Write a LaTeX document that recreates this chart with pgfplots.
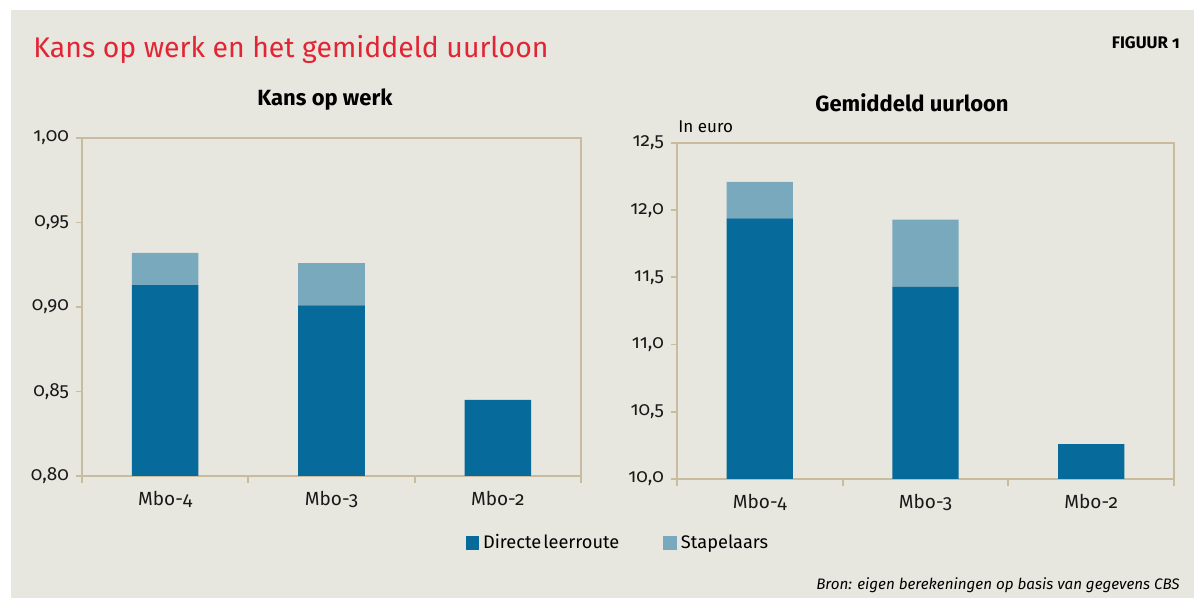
\documentclass[border=0pt]{standalone}
\usepackage{fontspec}
\setmainfont{Fira Sans}[Numbers=OldStyle]
\usepackage{pgfplots}
\pgfplotsset{compat=1.18}
\definecolor{bg}{RGB}{232,231,223}
\definecolor{dark}{RGB}{6,106,155}
\definecolor{light}{RGB}{121,169,189}
\definecolor{frame}{RGB}{201,188,158}
\definecolor{titlered}{RGB}{226,37,52}
\begin{document}
\begin{tikzpicture}
\fill[white] (0,0) rectangle (597pt,299pt);
\fill[bg] (5.5pt,0) rectangle (597pt,294pt);
\pgfplotsset{
  mybar/.style={
    scale only axis, ybar stacked, bar width=0.4,
    xmin=-0.5, xmax=2.5,
    xtick={0,1,2}, xticklabels={Mbo-4,Mbo-3,Mbo-2},
    minor xtick={-0.5,0.5,1.5,2.5},
    major x tick style={draw=none},
    tick align=outside, tick pos=left,
    major tick length=3pt, minor tick length=3.5pt,
    axis line style={frame, line width=0.9pt},
    every tick/.style={frame, line width=0.9pt},
    tick label style={font=\fontsize{9.5}{11}\selectfont, text=black!90},
    xticklabel style={yshift=-1pt},
    /pgf/number format/assume math mode=true,
    /pgf/number format/use comma,
    /pgf/number format/fixed,
    /pgf/number format/fixed zerofill,
    every axis plot/.append style={draw=none},
  }
}
% left panel
\begin{axis}[mybar, at={(41pt,61pt)}, anchor=south west,
  width=249.5pt, height=169pt,
  ymin=0.8, ymax=1.0, ytick={0.8,0.85,0.9,0.95,1},
  yticklabel style={/pgf/number format/precision=2}]
\addplot[fill=dark] coordinates {(0,0.913) (1,0.901) (2,0.845)};
\addplot[fill=light] coordinates {(0,0.019) (1,0.025) (2,0)};
\end{axis}
% right panel
\begin{axis}[mybar, at={(338.5pt,59.5pt)}, anchor=south west,
  width=248.5pt, height=168pt,
  ymin=10, ymax=12.5, ytick={10,10.5,11,11.5,12,12.5},
  yticklabel style={/pgf/number format/precision=1},
  legend columns=2,
  legend style={draw=none, fill=none, at={(-0.117,-0.19)}, anchor=center,
    font=\fontsize{9.1}{11}\selectfont,
    /tikz/every even column/.append style={column sep=20pt}},
  legend image code/.code={\fill[#1] (0pt,-3.4pt) rectangle (6.8pt,3.4pt);}]
\addplot[fill=dark] coordinates {(0,11.94) (1,11.43) (2,10.26)};
\addplot[fill=light] coordinates {(0,0.27) (1,0.50) (2,0)};
\legend{Directe\hspace{-0.15em} leerroute, Stapelaars}
\end{axis}
\node[anchor=base west, text=titlered, font=\fontsize{14.2}{17}\selectfont, inner sep=0] at (16.5pt,270pt) {Kans op werk en het gemiddeld uurloon};
\node[anchor=base east, font=\fontsize{8.4}{10}\selectfont\bfseries, inner sep=0] at (590pt,274.5pt) {FIGUUR 1};
\node[anchor=base, font=\fontsize{11}{13}\selectfont\bfseries, inner sep=0] at (162.5pt,246pt) {Kans op werk};
\node[anchor=base, font=\fontsize{11}{13}\selectfont\bfseries, inner sep=0] at (456pt,243pt) {Gemiddeld uurloon};
\node[anchor=base west, font=\fontsize{8.5}{10}\selectfont, inner sep=0] at (339pt,232.5pt) {In euro};
\node[anchor=base east, font=\fontsize{7.6}{9}\selectfont\itshape, inner sep=0] at (590pt,4pt) {Bron: eigen berekeningen op basis van gegevens CBS};
\end{tikzpicture}
\end{document}
